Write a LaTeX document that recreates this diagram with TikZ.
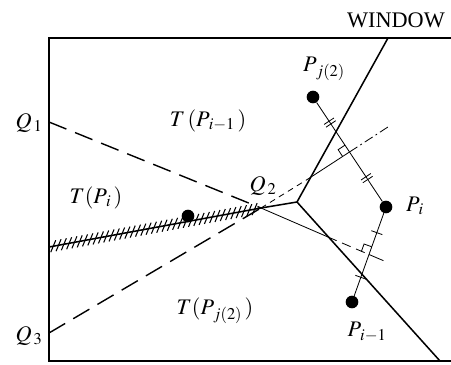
\documentclass[tikz,border=0pt]{standalone}
\usepackage{mathptmx}
\usepackage{fontspec}
\setmainfont{Liberation Serif}
\usetikzlibrary{calc}

\begin{document}
\begin{tikzpicture}[x=0.03cm, y=-0.03cm,
  every node/.style={font=\fontsize{19}{21}\selectfont},
  frame/.style={line width=1.3pt},
  edge/.style={line width=1.3pt},
  cut/.style={line width=1.2pt, dash pattern=on 16pt off 8pt},
  bis/.style={line width=0.7pt},
  site/.style={circle, fill, inner sep=0pt, minimum size=0.38cm}]
  \useasboundingbox (0,0) rectangle (451,364);

  % window frame
  \draw[frame] (451,38) -- (49,38) -- (49,361) -- (451,361);
  \node (win) at (396,20) {WINDOW};

  % points on the frame and Voronoi vertices
  \coordinate (Q1) at (49,122);
  \coordinate (Q2) at (261,208);
  \coordinate (Q3) at (49,333);
  \coordinate (H) at (49,247);
  \coordinate (V) at (297,202);
  \coordinate (Vt) at (388,38);
  \coordinate (Vb) at (440,361);
  \coordinate (B1) at (308,179);
  \coordinate (B2) at (328,237);

  % sites
  \node[site] (Pj) at (313,97) {};
  \node[site] (Pi) at (386,207) {};
  \node[site] (Pim) at (352,302) {};
  \node[site] (Pk) at (188,216) {};

  \coordinate (F1) at ($(Pj)!0.5!(Pi)$);
  \coordinate (F2) at ($(Pi)!0.5!(Pim)$);
  \coordinate (E1) at ($(B1)!1.95!(F1)$);
  \coordinate (E2) at ($(B2)!1.35!(F2)$);

  % labels
  \node (lQ1) at (29,123) {$Q_{\,1}$};
  \node (lQ2) at (263,186) {$Q_{\,2}$};
  \node (lQ3) at (29,336) {$Q_{\,3}$};
  \node (lT1) at (208,121) {$T\,(P_{\,i-1}\,)$};
  \node (lT2) at (96,198) {$T(P_{\,i}\,)$};
  \node (lT3) at (215,311) {$T(P_{\,j(2)}\,)$};
  \node (lPj) at (324,69) {$P_{\,j(2)}$};
  \node (lPi) at (415,206) {$P_{\,i}$};
  \node (lPim) at (367,332) {$P_{\,i-1}$};

  % cuts through Q2
  \draw[cut] (Q1) -- (Q2);
  \draw[cut] (Q3) -- (Q2);

  % hatched boundary
  \draw[edge] (H) -- (Q2);
  \foreach \f in {0.02,0.045,...,0.98}
    \draw[line width=0.9pt] ($(H)!\f!(Q2)$) +(-2.5,6) -- +(2.5,-6);

  % Voronoi edges
  \draw[edge] (Q2) -- (V);
  \draw[edge] (Vt) -- (V) -- (Vb);

  % bisectors
  \draw[bis, dash pattern=on 5pt off 4pt] (Q2) -- (B1);
  \draw[bis] (B1) -- (F1);
  \draw[bis, dash pattern=on 8pt off 3pt on 1.5pt off 3pt] (F1) -- (E1);
  \draw[bis] (Q2) -- (B2);
  \draw[bis, dash pattern=on 8pt off 5pt] (B2) -- (F2);
  \draw[bis] (F2) -- (E2);

  % segments between sites
  \draw[bis] (Pj) -- (Pi) -- (Pim);

  % equal-length ticks
  \foreach \f in {0.22,0.245,0.725,0.75} {
    \coordinate (t) at ($(Pj)!\f!(Pi)$);
    \draw[bis] ($(t)!5pt!90:(Pi)$) -- ($(t)!5pt!-90:(Pi)$);
  }
  \foreach \f in {0.27,0.74} {
    \coordinate (t) at ($(Pi)!\f!(Pim)$);
    \draw[bis] ($(t)!5pt!90:(Pim)$) -- ($(t)!5pt!-90:(Pim)$);
  }

  % right angle marks
  \coordinate (s1) at ($(F1)!7pt!(Pj)$);
  \coordinate (s3) at ($(F1)!7pt!90:(Pj)$);
  \draw[bis] (s1) -- ($(s1)+(s3)-(F1)$) -- (s3);
  \coordinate (r1) at ($(F2)!7pt!(Pi)$);
  \coordinate (r3) at ($(F2)!7pt!90:(Pi)$);
  \draw[bis] (r1) -- ($(r1)+(r3)-(F2)$) -- (r3);
\end{tikzpicture}
\end{document}
